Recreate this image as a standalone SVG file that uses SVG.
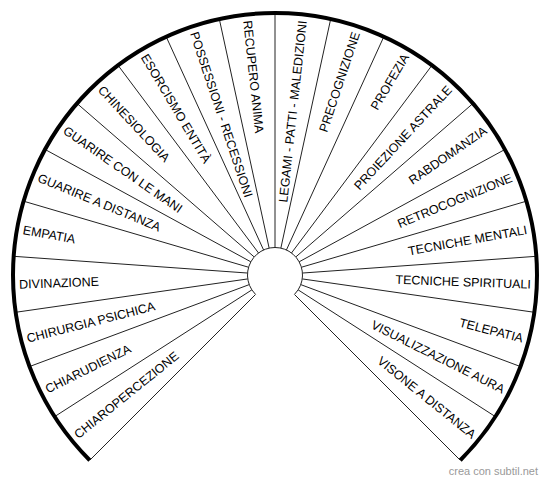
<svg xmlns="http://www.w3.org/2000/svg" width="550" height="482" viewBox="0 0 550 482">
<style>
.bg{fill:#fff}
.rad line{stroke:#222;stroke-width:1;fill:none}
.rim{fill:none;stroke:#000;stroke-width:4;stroke-linecap:butt}
.hub{fill:#fff;stroke:#222;stroke-width:1}
.lbl{font-family:"Liberation Sans",Arial,sans-serif;font-size:12.5px;fill:#000}
.l{text-anchor:start}
.r{text-anchor:end}
.foot{font-family:"Liberation Sans",Arial,sans-serif;font-size:11px;fill:#999;text-anchor:end}
</style>
<rect class="bg" x="0" y="0" width="550" height="482"/>
<g id="connectors" class="rad">
<line x1="255.55" y1="294.45" x2="89.74" y2="460.26"/>
<line x1="251.87" y1="289.87" x2="54.59" y2="416.65"/>
<line x1="249.23" y1="284.61" x2="29.52" y2="366.56"/>
<line x1="247.78" y1="278.91" x2="15.66" y2="312.29"/>
<line x1="247.57" y1="273.04" x2="13.67" y2="256.31"/>
<line x1="248.61" y1="267.25" x2="23.61" y2="201.19"/>
<line x1="250.86" y1="261.82" x2="45.05" y2="149.44"/>
<line x1="254.22" y1="256.99" x2="76.99" y2="103.43"/>
<line x1="258.52" y1="252.99" x2="117.99" y2="65.26"/>
<line x1="263.58" y1="249.99" x2="166.16" y2="36.68"/>
<line x1="269.15" y1="248.13" x2="219.31" y2="18.99"/>
<line x1="275" y1="247.5" x2="275" y2="13"/>
<line x1="280.85" y1="248.13" x2="330.69" y2="18.99"/>
<line x1="286.42" y1="249.99" x2="383.84" y2="36.68"/>
<line x1="291.48" y1="252.99" x2="432.01" y2="65.26"/>
<line x1="295.78" y1="256.99" x2="473.01" y2="103.43"/>
<line x1="299.14" y1="261.82" x2="504.95" y2="149.44"/>
<line x1="301.39" y1="267.25" x2="526.39" y2="201.19"/>
<line x1="302.43" y1="273.04" x2="536.33" y2="256.31"/>
<line x1="302.22" y1="278.91" x2="534.34" y2="312.29"/>
<line x1="300.77" y1="284.61" x2="520.48" y2="366.56"/>
<line x1="298.13" y1="289.87" x2="495.41" y2="416.65"/>
<line x1="294.45" y1="294.45" x2="460.26" y2="460.26"/>
</g>
<g id="rim"><path class="rim" d="M89.74 460.26 A262 262 0 1 1 460.26 460.26"/></g>
<g id="hub"><path class="hub" d="M255.55 294.45 L251.87 289.87 A27.5 27.5 0 1 1 298.13 289.87 L294.45 294.45"/></g>
<g id="n0"><text class="lbl l" x="19" y="275" dy="0.36em" transform="rotate(-38.864 275 275)">CHIAROPERCEZIONE</text></g>
<g id="n1"><text class="lbl l" x="19" y="275" dy="0.36em" transform="rotate(-26.591 275 275)">CHIARUDIENZA</text></g>
<g id="n2"><text class="lbl l" x="19" y="275" dy="0.36em" transform="rotate(-14.318 275 275)">CHIRURGIA PSICHICA</text></g>
<g id="n3"><text class="lbl l" x="19" y="275" dy="0.36em" transform="rotate(-2.045 275 275)">DIVINAZIONE</text></g>
<g id="n4"><text class="lbl l" x="19" y="275" dy="0.36em" transform="rotate(10.227 275 275)">EMPATIA</text></g>
<g id="n5"><text class="lbl l" x="19" y="275" dy="0.36em" transform="rotate(22.5 275 275)">GUARIRE A DISTANZA</text></g>
<g id="n6"><text class="lbl l" x="19" y="275" dy="0.36em" transform="rotate(34.773 275 275)">GUARIRE CON LE MANI</text></g>
<g id="n7"><text class="lbl l" x="19" y="275" dy="0.36em" transform="rotate(47.045 275 275)">CHINESIOLOGIA</text></g>
<g id="n8"><text class="lbl l" x="19" y="275" dy="0.36em" transform="rotate(59.318 275 275)">ESORCISMO ENTITÀ</text></g>
<g id="n9"><text class="lbl l" x="19" y="275" dy="0.36em" transform="rotate(71.591 275 275)">POSSESSIONI - RECESSIONI</text></g>
<g id="n10"><text class="lbl l" x="19" y="275" dy="0.36em" transform="rotate(83.864 275 275)">RECUPERO ANIMA</text></g>
<g id="n11"><text class="lbl r" x="531" y="275" dy="0.36em" transform="rotate(-83.864 275 275)">LEGAMI - PATTI - MALEDIZIONI</text></g>
<g id="n12"><text class="lbl r" x="531" y="275" dy="0.36em" transform="rotate(-71.591 275 275)">PRECOGNIZIONE</text></g>
<g id="n13"><text class="lbl r" x="531" y="275" dy="0.36em" transform="rotate(-59.318 275 275)">PROFEZIA</text></g>
<g id="n14"><text class="lbl r" x="531" y="275" dy="0.36em" transform="rotate(-47.045 275 275)">PROIEZIONE ASTRALE</text></g>
<g id="n15"><text class="lbl r" x="531" y="275" dy="0.36em" transform="rotate(-34.773 275 275)">RABDOMANZIA</text></g>
<g id="n16"><text class="lbl r" x="531" y="275" dy="0.36em" transform="rotate(-22.5 275 275)">RETROCOGNIZIONE</text></g>
<g id="n17"><text class="lbl r" x="531" y="275" dy="0.36em" transform="rotate(-10.227 275 275)">TECNICHE MENTALI</text></g>
<g id="n18"><text class="lbl r" x="531" y="275" dy="0.36em" transform="rotate(2.045 275 275)">TECNICHE SPIRITUALI</text></g>
<g id="n19"><text class="lbl r" x="531" y="275" dy="0.36em" transform="rotate(14.318 275 275)">TELEPATIA</text></g>
<g id="n20"><text class="lbl r" x="531" y="275" dy="0.36em" transform="rotate(26.591 275 275)">VISUALIZZAZIONE AURA</text></g>
<g id="n21"><text class="lbl r" x="531" y="275" dy="0.36em" transform="rotate(38.864 275 275)">VISONE A DISTANZA</text></g>
<g id="footer"><text class="foot" x="538" y="475">crea con subtil.net</text></g>
</svg>
